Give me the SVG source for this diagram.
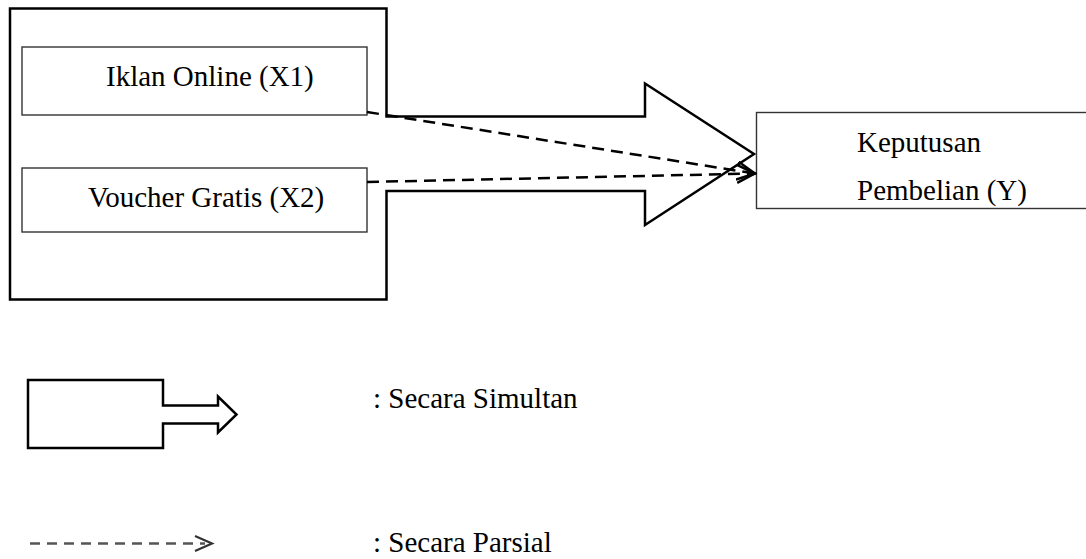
<svg xmlns="http://www.w3.org/2000/svg" width="1086" height="559" viewBox="0 0 1086 559">
  <style>
    .t { font-family: "Liberation Serif", "Times New Roman", serif; font-size: 29px; fill: #000; }
    .box { fill: #fff; stroke: #333; stroke-width: 1.4; }
    .big { fill: #fff; stroke: #000; stroke-width: 2.5; stroke-linejoin: miter; }
    .dash { fill: none; stroke: #000; stroke-width: 2.5; stroke-dasharray: 12 7; }
  </style>
  <defs>
    <marker id="chev" viewBox="0 0 20 20" refX="18" refY="10" markerWidth="20" markerHeight="20" markerUnits="userSpaceOnUse" orient="auto">
      <path d="M0,1 L18,10 L0,19" fill="none" stroke="#000" stroke-width="2.5"/>
    </marker>
  </defs>
  <rect width="1086" height="559" fill="#fff"/>

  <g id="simultan-arrow">
    <path class="big" d="M10,8.5 H386.5 V116.5 H645 V83.5 L754,154 L645,225 V191 H386.5 V299.5 H10 Z"/>
  </g>

  <g id="x1">
    <rect class="box" x="22" y="47" width="345" height="68"/>
    <text class="t" x="106" y="86">Iklan Online (X1)</text>
  </g>

  <g id="x2">
    <rect class="box" x="22" y="168" width="345" height="64"/>
    <text class="t" x="88" y="207">Voucher Gratis (X2)</text>
  </g>

  <g id="y">
    <rect class="box" x="756.5" y="112.5" width="340" height="96"/>
    <text class="t" x="857" y="152">Keputusan</text>
    <text class="t" x="857" y="200">Pembelian (Y)</text>
  </g>

  <g id="connectors">
    <line class="dash" x1="367" y1="112" x2="755" y2="173.5" marker-end="url(#chev)"/>
    <line class="dash" x1="367" y1="182" x2="755" y2="173.5" marker-end="url(#chev)"/>
  </g>

  <g id="legend-simultan">
    <path class="big" d="M28,380 H163 V405.5 H218 V396.5 L236.5,414.5 L218,432.5 V423.5 H163 V448 H28 Z"/>
    <text class="t" x="373" y="408">: Secara Simultan</text>
  </g>

  <g id="legend-parsial">
    <line x1="30" y1="543.5" x2="205" y2="543.5" stroke="#555" stroke-width="2.5" stroke-dasharray="10 7"/>
    <path d="M195,536 L212,543.5 L195,551" fill="none" stroke="#333" stroke-width="2.2"/>
    <text class="t" x="373" y="552">: Secara Parsial</text>
  </g>
</svg>
